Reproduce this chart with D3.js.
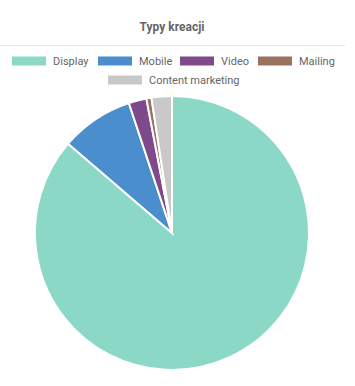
<!DOCTYPE html>
<html><head><meta charset="utf-8">
<script src="https://cdn.jsdelivr.net/npm/d3@7"></script>
<style>body{margin:0;background:#fff;font-family:Roboto,"Helvetica Neue",Arial,sans-serif;}</style>
</head><body>
<svg id="c" width="355" height="386"></svg>
<script>
const categories = ["Display", "Mobile", "Video", "Mailing", "Content marketing"];
const values = [86.3, 8.6, 2.1, 0.6, 2.4];
const colors = ["#8cd8c7", "#4a8ecd", "#7e4a8c", "#9a7360", "#c9c9c9"];
const title = "Typy kreacji";

const svg = d3.select("#c");
svg.append("text").attr("x", 172).attr("y", 31).attr("text-anchor", "middle")
  .attr("font-size", 12).attr("font-weight", "bold").attr("fill", "#666").text(title);
svg.append("line").attr("x1", 0).attr("x2", 345).attr("y1", 45.5).attr("y2", 45.5)
  .attr("stroke", "#e6e6e6").attr("stroke-width", 1);

// legend
const legendPos = [[12, 61], [98, 61], [180, 61], [258, 61], [108, 80]];
const lg = svg.append("g");
categories.forEach((c, i) => {
  const [x, y] = legendPos[i];
  lg.append("rect").attr("x", x).attr("y", y - 4.5).attr("width", 34).attr("height", 9).attr("fill", colors[i]);
  lg.append("text").attr("x", x + 41).attr("y", y + 4).attr("font-size", 11).attr("fill", "#666").text(c);
});

const color = d3.scaleOrdinal().domain(categories).range(colors);
const pie = d3.pie().sort(null).value(d => d.v);
const data = categories.map((c, i) => ({c, v: values[i]}));
const arc = d3.arc().innerRadius(0).outerRadius(137);
svg.append("g").attr("transform", "translate(172,233)")
  .selectAll("path").data(pie(data)).join("path")
  .attr("d", arc).attr("fill", d => color(d.data.c))
  .attr("stroke", "#fff").attr("stroke-width", 2);
</script>
</body></html>
